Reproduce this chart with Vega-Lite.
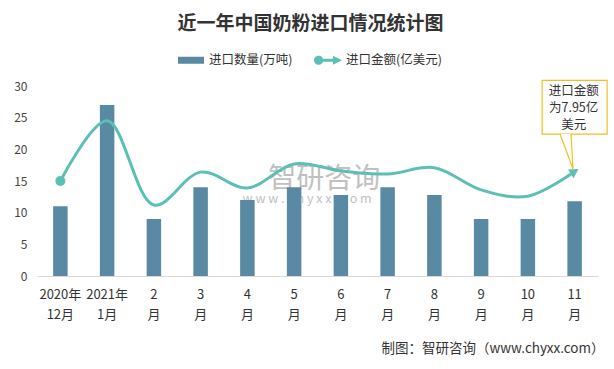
{
  "$schema": "https://vega.github.io/schema/vega-lite/v6.json",
  "width": 561,
  "height": 190,
  "autosize": {"type": "none"},
  "padding": {"left": 37, "top": 86, "right": 16, "bottom": 93},
  "background": "white",
  "config": {
    "font": "Noto Sans CJK SC",
    "view": {"stroke": null},
    "axisY": {
      "values": [0, 5, 10, 15, 20, 25, 30],
      "tickCount": 7,
      "title": null,
      "domain": false,
      "ticks": false,
      "gridColor": "#d9d9d9",
      "labelFont": "Noto Sans CJK SC",
      "labelFontSize": 12,
      "labelColor": "#444444",
      "labelPadding": 10
    }
  },
  "title": {
    "text": "近一年中国奶粉进口情况统计图",
    "font": "Noto Sans CJK SC",
    "fontSize": 19,
    "fontWeight": "bold",
    "color": "#333333",
    "anchor": "middle",
    "frame": "group",
    "dx": -7,
    "offset": 12
  },
  "data": {
    "values": [
      {"month": "2020年12月", "qty": 11, "amt": 15.0},
      {"month": "2021年1月", "qty": 27, "amt": 24.5},
      {"month": "2月", "qty": 9, "amt": 11.2},
      {"month": "3月", "qty": 14, "amt": 16.4},
      {"month": "4月", "qty": 12, "amt": 13.9},
      {"month": "5月", "qty": 14, "amt": 17.7},
      {"month": "6月", "qty": 12.8, "amt": 16.6},
      {"month": "7月", "qty": 14, "amt": 16.1},
      {"month": "8月", "qty": 12.8, "amt": 17.1},
      {"month": "9月", "qty": 9, "amt": 13.6},
      {"month": "10月", "qty": 9, "amt": 12.6},
      {"month": "11月", "qty": 11.8, "amt": 16.5}
    ]
  },
  "encoding": {
    "x": {
      "field": "month",
      "type": "nominal",
      "sort": null,
      "scale": {
        "domain": ["2020年12月", "2021年1月", "2月", "3月", "4月", "5月", "6月", "7月", "8月", "9月", "10月", "11月"],
        "paddingInner": 0.69,
        "paddingOuter": 0.345
      },
      "axis": {
        "labelAngle": 0,
        "labelExpr": "datum.value === '2020年12月' ? ['2020年','12月'] : datum.value === '2021年1月' ? ['2021年','1月'] : [replace(datum.value, '月', ''), '月']",
        "ticks": false,
        "domain": true,
        "domainColor": "#d9d9d9",
        "labelFont": "Noto Sans CJK SC",
        "labelFontSize": 13,
        "labelColor": "#333333",
        "labelLineHeight": 20,
        "labelPadding": 12,
        "title": "制图：智研咨询（www.chyxx.com）",
        "titleFont": "Noto Sans CJK SC",
        "titleFontSize": 13.5,
        "titleFontWeight": "normal",
        "titleColor": "#333333",
        "titleAnchor": "end",
        "titleAlign": "right",
        "titleBaseline": "middle",
        "titleX": 567,
        "titleY": 72
      }
    }
  },
  "layer": [
    {
      "data": {"values": [{"w": "智研咨询"}]},
      "mark": {"type": "text", "fontSize": 28, "fill": "#a6a6a6", "opacity": 0.7, "dx": 30, "baseline": "middle", "align": "center"},
      "encoding": {
        "x": {"datum": "5月"},
        "y": {
          "datum": 15.2,
          "type": "quantitative",
          "scale": {"domain": [0, 30]},
          "axis": {"values": [0, 5, 10, 15, 20, 25, 30]}
        },
        "text": {"field": "w"}
      }
    },
    {
      "data": {"values": [{"u": "w w w . c h y x x . c o m"}]},
      "mark": {"type": "text", "fontSize": 12.5, "fill": "#a6a6a6", "opacity": 0.7, "dx": 13, "baseline": "middle", "align": "center"},
      "encoding": {
        "x": {"datum": "5月"},
        "y": {"datum": 12.2, "type": "quantitative", "axis": {"values": [0, 5, 10, 15, 20, 25, 30]}},
        "text": {"field": "u"}
      }
    },
    {
      "mark": {"type": "bar"},
      "encoding": {
        "y": {"field": "qty", "type": "quantitative", "axis": {"values": [0, 5, 10, 15, 20, 25, 30]}},
        "color": {
          "datum": "进口数量(万吨)",
          "scale": {"domain": ["进口数量(万吨)", "进口金额(亿美元)"], "range": ["#5a8aa3", "#5cbfb4"]},
          "legend": {
            "title": null,
            "orient": "none",
            "legendX": 140,
            "legendY": -40,
            "direction": "horizontal",
            "symbolSize": 784,
            "labelFont": "Noto Sans CJK SC",
            "labelFontSize": 12.5,
            "labelColor": "#333333",
            "labelOffset": 4,
            "columnPadding": 20,
            "encode": {
              "symbols": {
                "update": {
                  "shape": {"signal": "datum.value === '进口数量(万吨)' ? 'M -0.93 -0.25 H 0.93 V 0.25 H -0.93 Z' : 'M -1 0 A 0.33 0.33 0 1 1 -0.34 0 A 0.33 0.33 0 1 1 -1 0 Z M -0.67 -0.11 L 0.45 -0.11 L 0.45 0.11 L -0.67 0.11 Z M 0.35 -0.33 L 1 0 L 0.35 0.33 Z'"},
                  "fill": {"signal": "datum.value === '进口数量(万吨)' ? '#5a8aa3' : '#5cbfb4'"},
                  "stroke": {"value": "transparent"},
                  "strokeWidth": {"value": 0},
                  "opacity": {"value": 1}
                }
              }
            }
          }
        }
      }
    },
    {
      "mark": {"type": "line", "interpolate": "catmull-rom", "strokeWidth": 3},
      "encoding": {
        "y": {"field": "amt", "type": "quantitative", "axis": {"values": [0, 5, 10, 15, 20, 25, 30]}},
        "color": {"datum": "进口金额(亿美元)"}
      }
    },
    {
      "transform": [{"filter": "datum.month === '2020年12月'"}],
      "mark": {"type": "point", "filled": true, "size": 100, "color": "#5cbfb4", "opacity": 1},
      "encoding": {
        "y": {"field": "amt", "type": "quantitative", "axis": {"values": [0, 5, 10, 15, 20, 25, 30]}}
      }
    },
    {
      "transform": [{"filter": "datum.month === '11月'"}],
      "mark": {"type": "point", "filled": true, "shape": "triangle-right", "size": 110, "angle": -32, "color": "#5cbfb4", "opacity": 1},
      "encoding": {
        "y": {"field": "amt", "type": "quantitative", "axis": {"values": [0, 5, 10, 15, 20, 25, 30]}}
      }
    },
    {
      "data": {"values": [{"note": "callout"}]},
      "mark": {"type": "bar", "width": 65, "fill": "white", "stroke": "#f5bd1f", "strokeWidth": 1.2},
      "encoding": {
        "x": {"datum": "11月"},
        "y": {"datum": 30.9, "type": "quantitative", "axis": {"values": [0, 5, 10, 15, 20, 25, 30]}},
        "y2": {"datum": 22.4}
      }
    },
    {
      "data": {"values": [{"note": "callout"}]},
      "mark": {"type": "point", "shape": "M -0.81 -0.97 L -0.09 0.97 L -0.2 -0.97", "size": 1296, "filled": false, "fill": "white", "fillOpacity": 1, "stroke": "#f5bd1f", "strokeWidth": 1.2, "opacity": 1},
      "encoding": {
        "x": {"datum": "11月"},
        "y": {"datum": 19.66, "type": "quantitative", "axis": {"values": [0, 5, 10, 15, 20, 25, 30]}}
      }
    },
    {
      "data": {"values": [{"note": "进口金额为7.95亿美元"}]},
      "mark": {"type": "text", "fontSize": 12.5, "fill": "#333333", "align": "center", "baseline": "middle", "lineHeight": 17, "dx": -1},
      "encoding": {
        "x": {"datum": "11月"},
        "y": {"datum": 29.26, "type": "quantitative", "axis": {"values": [0, 5, 10, 15, 20, 25, 30]}},
        "text": {"value": ["进口金额", "为7.95亿", "美元"]}
      }
    }
  ]
}
